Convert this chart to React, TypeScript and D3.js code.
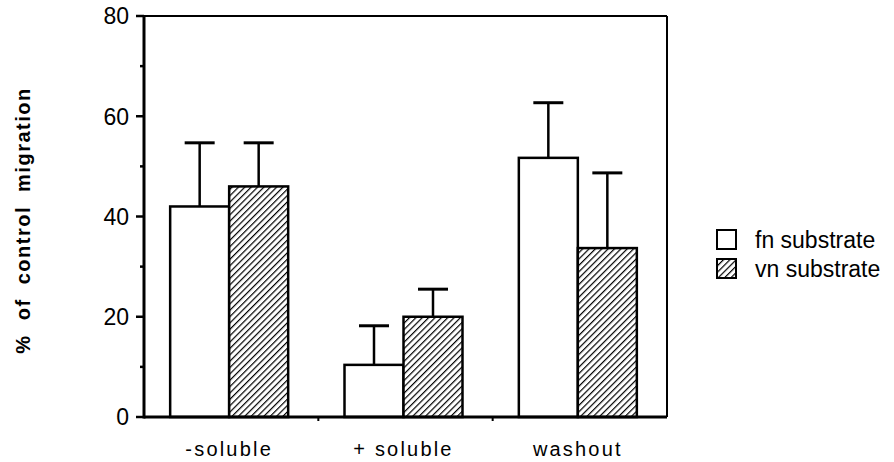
import React from 'react';
import * as d3 from 'd3';

const categories = ['-soluble', '+ soluble', 'washout'];
const seriesNames = ['fn substrate', 'vn substrate'];
const fnValues = [42, 10.4, 51.7];
const fnErrors = [12.7, 7.8, 11];
const vnValues = [46, 20, 33.7];
const vnErrors = [8.7, 5.5, 15];
const majorTicks = [0, 20, 40, 60, 80];
const minorTicks = [10, 30, 50, 70];

const FONT = '"Liberation Sans", Arial, Helvetica, sans-serif';

export default function App() {
  const width = 894;
  const height = 462;
  const left = 144;
  const right = 667;
  const top = 16;
  const bottom = 417;

  const y = d3.scaleLinear().domain([0, 80]).range([bottom, top]);
  const x0 = d3.scaleBand<string>().domain(categories).range([left - 2, right - 2]);
  const x1 = d3.scaleBand<string>().domain(seriesNames).range([0, 118]);

  const rows = categories.map((c, i) => ({
    cat: c,
    bars: [
      { s: seriesNames[0], v: fnValues[i], e: fnErrors[i] },
      { s: seriesNames[1], v: vnValues[i], e: vnErrors[i] },
    ],
  }));

  const capW = 30;

  return (
    <div style={{ position: 'absolute', left: 0, top: 0 }}>
      <svg width={width} height={height} style={{ display: 'block', background: '#fff' }}>
        <defs>
          <pattern id="hatch" patternUnits="userSpaceOnUse" width={4.5} height={4.5} patternTransform="rotate(45)">
            <rect width={4.5} height={4.5} fill="#fff" />
            <line x1={0} y1={0} x2={0} y2={4.5} stroke="#000" strokeWidth={2.4} />
          </pattern>
        </defs>

        {/* bars */}
        {rows.map(r => {
          const gx = x0(r.cat)! + x0.bandwidth() / 2 - 59;
          return (
            <g key={r.cat} transform={`translate(${gx},0)`}>
              {r.bars.map((b, j) => {
                const bx = x1(b.s)!;
                const bw = x1.bandwidth();
                const cx = bx + bw / 2;
                return (
                  <g key={b.s}>
                    <line x1={cx} x2={cx} y1={y(b.v)} y2={y(b.v + b.e)} stroke="#000" strokeWidth={2.5} />
                    <line x1={cx - capW / 2} x2={cx + capW / 2} y1={y(b.v + b.e)} y2={y(b.v + b.e)} stroke="#000" strokeWidth={3} />
                    <rect
                      x={bx}
                      y={y(b.v)}
                      width={bw}
                      height={y(0) - y(b.v)}
                      fill={j === 0 ? '#fff' : 'url(#hatch)'}
                      stroke="#000"
                      strokeWidth={2.5}
                    />
                  </g>
                );
              })}
            </g>
          );
        })}

        {/* frame */}
        <line x1={left} x2={right} y1={top} y2={top} stroke="#000" strokeWidth={2} />
        <line x1={right} x2={right} y1={top} y2={bottom} stroke="#000" strokeWidth={2} />
        <line x1={left} x2={left} y1={top - 1} y2={bottom + 1.5} stroke="#000" strokeWidth={3} />
        <line x1={left} x2={right} y1={bottom} y2={bottom} stroke="#000" strokeWidth={3} />

        {/* y ticks */}
        {majorTicks.map(t => (
          <g key={t}>
            <line x1={left - 8} x2={left} y1={y(t)} y2={y(t)} stroke="#000" strokeWidth={2.5} />
            <text x={left - 15} y={y(t)} dy="0.36em" textAnchor="end" fontFamily={FONT} fontSize={23}>
              {t}
            </text>
          </g>
        ))}
        {minorTicks.map(t => (
          <line key={t} x1={left - 4} x2={left} y1={y(t)} y2={y(t)} stroke="#000" strokeWidth={2.5} />
        ))}

        {/* x ticks at category boundaries */}
        {categories.slice(1).map(c => (
          <line key={c} x1={x0(c)! + 2} x2={x0(c)! + 2} y1={bottom} y2={bottom + 4} stroke="#000" strokeWidth={2} />
        ))}

        {/* x labels */}
        {categories.map(c => (
          <text
            key={c}
            x={x0(c)! + x0.bandwidth() / 2}
            y={456}
            textAnchor="middle"
            fontFamily={FONT}
            fontSize={20}
            letterSpacing={2.2}
            style={{ whiteSpace: 'pre' }}
          >
            {c}
          </text>
        ))}

        {/* y title */}
        <text
          transform={`translate(30,${(top + bottom) / 2 + 4}) rotate(-90)`}
          textAnchor="middle"
          fontFamily={FONT}
          fontSize={20}
          fontWeight="bold"
          letterSpacing={1.5}
          style={{ whiteSpace: 'pre' }}
        >
          {'%  of  control  migration'}
        </text>

        {/* legend */}
        {seriesNames.map((s, i) => (
          <g key={s} transform={`translate(717,${230 + i * 29})`}>
            <rect x={0} y={0} width={19} height={19} fill={i === 0 ? '#fff' : 'url(#hatch)'} stroke="#000" strokeWidth={2} />
            <text x={38} y={10} dy="0.36em" fontFamily={FONT} fontSize={23}>
              {s}
            </text>
          </g>
        ))}
      </svg>
    </div>
  );
}
